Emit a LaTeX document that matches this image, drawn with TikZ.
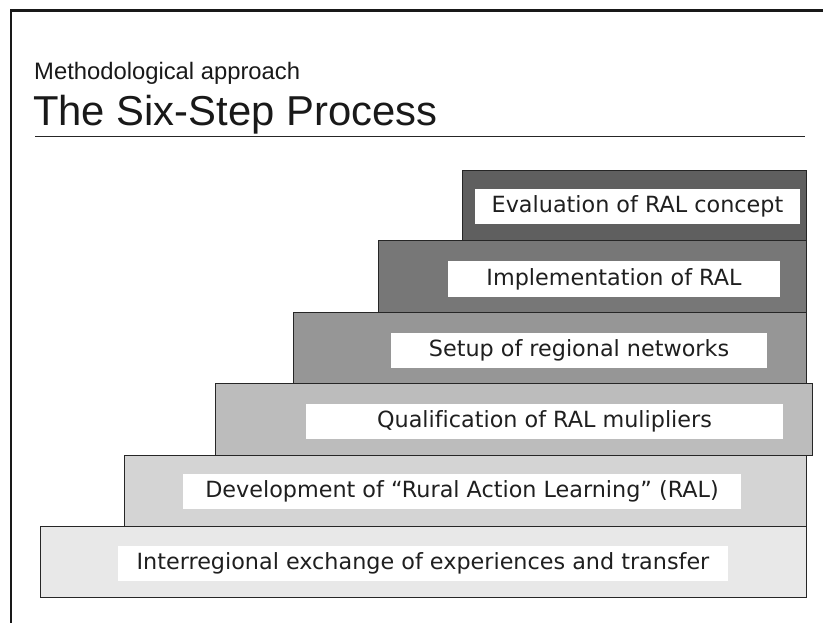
\documentclass[tikz,border=0pt]{standalone}
\usepackage{fontspec}
\setmainfont{Liberation Sans}
\newfontfamily\labelfont[Ligatures=NoCommon]{DejaVu Sans}
\begin{document}
\begin{tikzpicture}[x=1pt,y=-1pt,
  stepbox/.style={draw=black!85, line width=1.2pt, anchor=north west, inner sep=0pt},
  labelbox/.style={fill=white, inner sep=0pt, minimum height=35pt, text=black!88,
    font=\labelfont\fontsize{22.3}{26}\selectfont},
  headline/.style={anchor=base west, inner sep=0pt, text=black!90}]
\useasboundingbox (0,0) rectangle (823,623);
\definecolor{stepA}{HTML}{E8E8E8}
\definecolor{stepB}{HTML}{D4D4D4}
\definecolor{stepC}{HTML}{BCBCBC}
\definecolor{stepD}{HTML}{969696}
\definecolor{stepE}{HTML}{777777}
\definecolor{stepF}{HTML}{5F5F5F}

% page frame
\coordinate (ftl) at (11,10.5);
\coordinate (ftr) at (823,10.5);
\coordinate (fbl) at (11,623);
\draw[line width=2.2pt, black!90] (ftr) -- (ftl) -- (fbl);

% heading
\node[headline, font=\fontsize{23.8}{28}\selectfont] (sub) at (34,80) {Methodological approach};
\node[headline, font=\fontsize{41.8}{48}\selectfont] (title) at (33,126) {The Six-Step Process};
\coordinate (ul) at (35,137);
\coordinate (ur) at (805,137);
\draw[line width=1pt, black!85] (ul) -- (ur);

% the staircase, bottom step first
\node[stepbox, fill=stepA, minimum width=766pt, minimum height=71pt] (s1) at (40,526) {};
\node[stepbox, fill=stepB, minimum width=682pt, minimum height=71pt] (s2) at (124,455) {};
\node[stepbox, fill=stepC, minimum width=597pt, minimum height=72pt] (s3) at (215,383) {};
\node[stepbox, fill=stepD, minimum width=513pt, minimum height=71pt] (s4) at (293,312) {};
\node[stepbox, fill=stepE, minimum width=428pt, minimum height=72pt] (s5) at (378,240) {};
\node[stepbox, fill=stepF, minimum width=344pt, minimum height=70pt] (s6) at (462,170) {};

% step labels
\node[labelbox, minimum width=610pt] (l1) at (423,563) {Interregional exchange of experiences and transfer};
\node[labelbox, minimum width=558pt] (l2) at (462,491.5) {Development of “Rural Action Learning” (RAL)};
\node[labelbox, minimum width=477pt] (l3) at (544.5,421) {Qualification of RAL mulipliers};
\node[labelbox, minimum width=376pt] (l4) at (579,350) {Setup of regional networks};
\node[labelbox, minimum width=332pt] (l5) at (614,279) {Implementation of RAL};
\node[labelbox, minimum width=325pt] (l6) at (637.5,206.5) {Evaluation of RAL concept};
\end{tikzpicture}
\end{document}
